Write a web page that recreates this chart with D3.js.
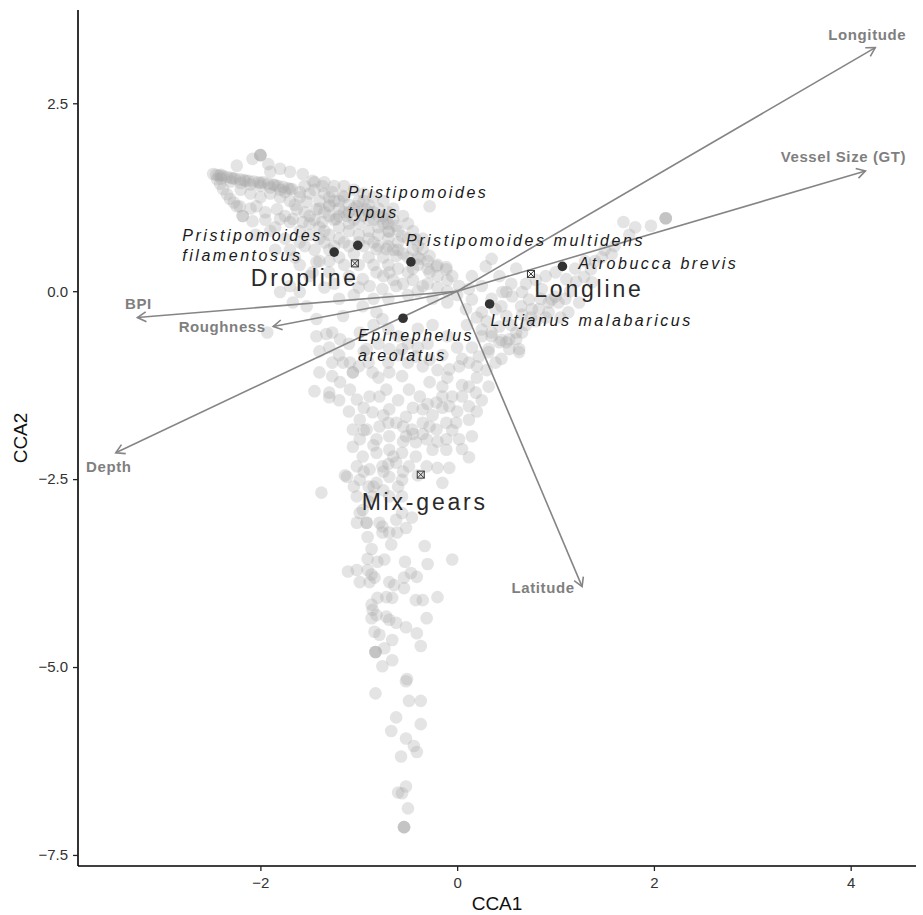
<!DOCTYPE html>
<html>
<head>
<meta charset="utf-8">
<script src="https://cdn.jsdelivr.net/npm/d3@7"></script>
<style>
  html, body { margin: 0; padding: 0; background: #fff; }
  svg { display: block; }
</style>
</head>
<body>
<svg id="chart" width="923" height="915"></svg>
<script>
// ---------------- DATA ----------------
const xTicks = [-2, 0, 2, 4];
const yTicks = [2.5, 0, -2.5, -5, -7.5];

// Site scores (CCA1, CCA2)
const sites = [
  // upper-left streak
  [-2.48,1.56],[-2.45,1.55],[-2.42,1.54],[-2.38,1.53],[-2.34,1.52],[-2.30,1.51],[-2.26,1.50],[-2.21,1.49],[-2.17,1.48],[-2.12,1.47],
  [-2.07,1.46],[-2.02,1.45],[-1.97,1.45],[-1.92,1.43],[-1.87,1.42],[-1.82,1.40],[-1.77,1.39],[-1.72,1.37],[-1.68,1.36],[-2.40,1.55],
  [-2.28,1.50],[-2.15,1.47],[-2.00,1.44],[-1.85,1.41],[-1.70,1.36],
  [-2.40,1.50],[-2.30,1.46],[-2.20,1.44],[-2.10,1.42],[-2.00,1.40],[-1.90,1.38],[-1.80,1.35],[-1.75,1.32],
  [-2.44,1.49],[-2.41,1.43],[-2.38,1.36],[-2.34,1.29],[-2.31,1.23],[-2.27,1.18],[-2.24,1.13],
  // top of the dropline cloud
  [-2.00,1.81],[-2.00,1.81],[-2.00,1.81],[-2.08,1.76],[-2.24,1.67],[-1.92,1.69],[-1.80,1.63],[-1.70,1.59],[-1.90,1.59],[-1.57,1.56],
  [-1.47,1.47],[-1.60,1.32],[-1.37,1.40],[-1.27,1.32],[-1.16,1.27],[-1.30,1.13],[-1.43,1.09],[-1.53,1.19],[-1.63,1.09],[-1.83,1.09],
  [-2.04,1.13],[-2.21,1.13],[-2.18,1.00],[-2.18,1.00],[-2.08,0.93],[-1.80,0.96],[-1.70,0.92],[-1.57,0.92],[-1.50,1.00],[-1.37,0.92],
  [-1.23,0.96],[-1.12,1.00],[-1.02,1.13],[-0.92,1.09],[-0.72,0.96],[-0.62,0.87],[-0.69,0.79],[-0.56,0.73],[-0.42,0.69],[-0.35,0.56],
  [-0.28,0.47],[-0.21,0.33],[-0.11,0.29],[-0.28,1.13],[-0.82,0.56],[-0.72,0.56],[-0.62,0.47],[-0.38,0.43],[-0.28,0.25],[-0.69,0.25],
  [-0.82,0.25],[-0.96,0.16],[-1.60,-0.01],[-1.53,-0.20],[-0.89,0.07],[-0.76,0.03],[-0.62,0.07],[-0.35,0.07],[-0.96,-0.20],[-0.82,-0.28],
  [-1.80,-0.01],
  // dense dropline mass
  [-1.60,1.25],[-1.50,1.30],[-1.40,1.20],[-1.30,1.25],[-1.20,1.20],[-1.10,1.15],[-1.00,1.20],[-0.90,1.15],[-0.80,1.10],[-0.70,1.05],
  [-1.55,1.05],[-1.45,0.95],[-1.35,1.05],[-1.25,0.95],[-1.15,1.05],[-1.05,0.95],[-0.95,1.00],[-0.85,0.95],[-0.75,0.90],
  [-1.60,0.80],[-1.50,0.75],[-1.40,0.85],[-1.30,0.75],[-1.20,0.85],[-1.10,0.80],[-1.00,0.75],[-0.90,0.80],[-0.80,0.75],[-0.70,0.70],[-0.60,0.65],
  [-1.55,0.60],[-1.45,0.55],[-1.35,0.65],[-1.25,0.60],[-1.15,0.65],[-1.05,0.50],[-0.95,0.60],[-0.85,0.65],[-0.75,0.45],[-0.65,0.55],[-0.55,0.50],[-0.45,0.55],
  [-1.40,0.40],[-1.20,0.45],[-1.00,0.35],[-0.90,0.45],[-0.70,0.35],[-0.60,0.30],[-0.50,0.25],[-0.40,0.35],[-0.30,0.40],[-0.20,0.20],[-0.10,0.15],
  [-1.50,0.20],[-1.30,0.25],[-1.10,0.20],[-0.55,0.10],[-0.45,0.15],[-0.30,0.10],[-0.20,0.05],[-0.10,0.00],[0.00,-0.05],
  [-1.45,1.35],[-1.35,1.30],[-1.25,1.20],[-1.15,1.25],[-1.05,1.10],[-0.95,1.20],[-0.85,1.05],[-1.20,1.10],[-1.30,1.00],[-1.00,1.05],
  [-0.90,0.95],[-0.80,0.85],[-0.70,0.80],[-0.65,0.95],[-1.10,0.90],[-1.35,0.80],[-0.75,1.00],
  [-2.20,1.35],[-2.10,1.30],[-2.00,1.25],[-1.90,1.30],[-1.80,1.25],[-1.70,1.20],[-2.10,1.10],[-1.95,0.95],[-1.85,0.85],[-1.75,1.00],[-1.65,1.15],
  [-1.55,1.40],[-1.45,1.45],[-1.35,1.45],[-1.25,1.40],[-1.15,1.40],[-1.05,1.35],[-0.95,1.30],[-0.85,1.25],[-0.75,1.20],[-0.65,1.10],[-0.55,1.00],
  [-0.50,0.90],[-0.45,0.80],[-0.35,0.70],
  [-1.40,1.10],[-1.30,1.15],[-1.20,1.00],[-1.10,1.05],[-1.00,0.90],[-0.90,1.05],[-0.80,1.00],[-0.70,0.90],[-0.60,0.80],[-0.50,0.70],[-0.40,0.60],
  [-1.50,0.90],[-1.40,0.70],[-1.30,0.55],[-1.20,0.70],[-1.10,0.60],[-1.00,0.65],[-0.90,0.70],[-0.80,0.60],[-0.70,0.60],[-0.60,0.55],[-0.50,0.45],
  [-0.40,0.45],[-0.30,0.30],[-0.20,0.35],
  [-1.60,0.65],[-1.70,0.55],[-1.60,0.35],[-1.30,0.40],[-1.15,0.35],[-0.85,0.35],[-0.75,0.20],[-0.65,0.15],[-0.45,0.30],[-1.25,0.10],[-1.00,0.05],
  [-0.85,-0.10],[-0.70,-0.10],[-0.50,-0.05],[-0.40,0.00],[-0.25,-0.10],[-0.10,-0.15],
  [-1.67,0.96],[-1.43,0.39],[-1.47,0.25],[-1.70,0.07],[-1.93,-0.55],[-1.67,-0.15],[-1.90,0.80],[-1.75,0.70],[-1.85,0.55],[-1.65,0.45],
  [-2.05,0.75],[-1.95,1.05],
  // below the BPI / Roughness vectors
  [-1.43,-0.37],[-1.27,-0.55],[-1.16,-0.33],[-0.99,-0.55],[-1.16,-0.95],[-1.27,-1.13],[-1.30,-1.41],[-0.92,-0.77],[-0.76,-0.37],[-0.69,-0.77],
  [-1.20,-0.10],[-1.05,-0.05],[-1.35,0.05],
  // longline arm
  [2.12,0.97],[2.12,0.97],[2.12,0.97],[1.97,0.87],[1.69,0.92],[1.81,0.85],[1.57,0.49],[1.47,0.45],[1.36,0.29],[1.29,0.19],
  [1.21,0.13],[1.11,0.16],[1.00,-0.07],[0.93,-0.15],[0.83,-0.24],[0.73,-0.11],[0.66,-0.31],[0.60,-0.55],[0.63,-0.81],[0.53,-0.64],
  [0.43,-0.47],[0.50,-0.33],[0.39,-0.24],[0.25,-0.28],[0.15,-0.11],[0.09,-0.24],[0.02,0.07],[0.43,0.20],[0.50,-0.01],[0.25,0.07],
  [0.15,0.20],[0.29,0.33],[0.35,0.43],[-0.11,0.32],[-0.05,0.20],
  [1.24,-0.15],[1.13,-0.28],[1.03,-0.15],[0.93,-0.28],[0.76,-0.24],[0.60,-0.64],[0.53,-0.77],[0.43,-0.68],[0.32,-0.81],[0.35,-0.60],
  [0.25,-0.51],[1.37,0.12],[0.66,-0.01],[0.56,-0.07],[0.46,-0.01],[0.12,0.03],[0.86,0.03],[0.96,-0.11],[1.40,0.40],[1.50,0.55],
  [1.20,0.30],[0.70,0.10],[0.60,0.30],[0.80,-0.40],[0.70,-0.45],[1.05,-0.35],
  [0.55,-0.45],[0.65,-0.20],[0.75,-0.35],[0.85,-0.10],[0.90,-0.35],[1.10,-0.10],[1.15,0.00],[0.45,-0.20],[0.30,-0.40],[0.20,-0.35],
  [0.35,-0.10],[0.55,0.10],[0.80,0.15],[1.60,0.60],[1.75,0.75],[1.30,0.40],[1.00,0.25],[0.90,0.20],
  // central part
  [-1.43,-0.60],[-1.33,-0.57],[-1.19,-0.64],[-1.06,-1.08],[-1.06,-1.08],[-1.40,-1.08],[-1.45,-1.33],[-1.30,-1.35],[-1.19,-1.21],[-1.09,-1.31],
  [-1.02,-1.44],[-0.89,-1.40],[-0.79,-1.40],[-0.72,-1.31],[-0.86,-1.08],[-0.69,-1.08],[-0.56,-1.13],[-0.49,-1.31],[-0.38,-1.40],[-0.28,-1.21],
  [-0.15,-1.27],[-0.08,-1.04],[0.02,-1.00],[0.12,-0.95],[0.22,-0.87],[0.32,-0.77],[0.39,-0.95],[0.50,-0.68],[0.63,-0.77],[0.66,-0.55],
  [0.12,-1.27],[0.19,-1.35],[0.05,-1.40],[0.32,-1.27],[0.12,-1.53],[-0.08,-1.53],[-0.21,-1.48],[-0.35,-1.57],[-0.52,-1.67],[-0.69,-1.57],
  [-0.86,-1.61],[-0.99,-1.71],[-1.06,-1.84],[-0.92,-1.84],[-0.79,-1.80],[-0.62,-1.75],[-0.46,-1.84],[-0.28,-1.80],[-0.11,-1.75],[-0.01,-1.75],
  [0.12,-1.71],[0.15,-1.93],[0.02,-1.97],[-0.11,-1.97],[-0.21,-1.84],[-0.31,-1.97],[-0.42,-2.01],[-0.52,-1.93],[-0.69,-1.93],[-0.82,-1.97],
  [-0.99,-1.97],[-1.06,-2.07],[-0.96,-2.20],[-0.82,-2.15],[-0.69,-2.11],[-0.56,-2.15],[-0.42,-2.20],[-0.25,-2.11],[-0.11,-2.11],[-1.02,-2.33],
  [-0.89,-2.37],[-0.76,-2.33],[-0.62,-2.28],[-0.49,-2.33],[-0.31,-2.33],[0.12,-2.21],[-0.08,-2.35],[-1.12,-2.47],[-0.99,-2.51],[-0.82,-2.55],
  [-0.69,-2.47],[-0.56,-2.51],[-0.15,-2.55],[-1.38,-2.68],[-1.02,-2.73],[-0.96,-2.91],[-0.86,-2.73],[-0.69,-2.73],[-0.56,-2.73],[-0.92,-3.08],
  [-0.76,-3.13],[-0.62,-3.04],[-1.27,-0.95],[-1.09,-0.95],[-0.28,-0.91],[-0.42,-0.87],[-0.56,-0.77],[-1.14,-2.45],
  [-0.60,-0.60],[-0.40,-0.50],[-0.25,-0.45],[-0.10,-0.60],[0.00,-0.75],[-0.15,-0.85],[0.25,-0.60],[0.10,-0.45],[-0.70,-0.50],[-0.80,-0.70],
  [-0.95,-0.80],[-0.85,-0.45],[-0.30,-0.70],[0.15,-0.75],[-0.50,-0.95],
  [0.45,-0.90],[0.30,-1.05],[0.20,-1.15],[0.05,-1.25],[-0.05,-1.40],[-0.15,-1.55],[-0.25,-1.65],[-0.35,-1.75],[-0.45,-1.90],[-0.55,-2.00],
  [-0.65,-2.20],[-0.75,-2.40],[-0.85,-2.60],[-0.90,-2.80],
  [-1.40,-0.80],[-1.30,-0.75],[-1.20,-0.85],[-1.10,-0.70],[-1.00,-1.00],[-0.90,-0.95],[-0.80,-1.15],[-0.70,-0.95],[-0.60,-0.85],[-0.50,-0.70],
  [-0.40,-0.75],[-0.35,-1.00],[-0.20,-1.05],[-0.10,-1.15],[0.05,-0.90],[0.20,-1.00],[0.35,-0.55],[0.45,-0.65],
  [-1.20,-1.45],[-1.10,-1.60],[-0.95,-1.55],[-0.75,-1.65],[-0.60,-1.45],[-0.45,-1.55],[-0.30,-1.50],[-0.15,-1.40],[0.00,-1.60],[0.25,-1.45],
  [0.20,-1.60],[-0.95,-1.85],[-0.85,-2.05],[-0.70,-1.75],[-0.55,-1.80],[-0.35,-1.90],[-0.20,-2.00],[0.05,-2.10],[-0.05,-1.85],
  [-0.95,-2.40],[-0.70,-2.30],[-0.55,-2.40],[-0.40,-2.45],[-0.20,-2.35],[-0.90,-2.60],[-0.75,-2.65],[-0.60,-2.60],[-1.05,-2.60],
  // mix-gears tail
  [-0.99,-2.95],[-0.92,-3.08],[-1.02,-3.08],[-0.79,-3.08],[-0.76,-3.21],[-0.69,-3.21],[-0.61,-3.21],[-0.52,-3.15],[-0.46,-3.01],[-0.56,-2.95],
  [-0.91,-3.27],[-0.67,-3.37],[-0.33,-3.39],[-0.87,-3.43],[-0.91,-3.56],[-0.81,-3.60],[-0.74,-3.57],[-0.53,-3.60],[-0.30,-3.63],[-0.05,-3.57],
  [-1.11,-3.73],[-1.02,-3.71],[-0.91,-3.71],[-0.87,-3.77],[-0.99,-3.87],[-0.89,-3.87],[-0.84,-3.81],[-0.69,-3.87],[-0.64,-3.91],[-0.54,-3.81],
  [-0.47,-3.75],[-0.41,-3.80],[-0.54,-3.95],[-0.72,-4.07],[-0.66,-4.08],[-0.81,-4.08],[-0.42,-4.11],[-0.35,-4.11],[-0.20,-4.07],[-0.87,-4.17],
  [-0.86,-4.24],[-0.82,-4.31],[-0.72,-4.33],[-0.87,-4.35],[-0.69,-4.37],[-0.62,-4.41],[-0.31,-4.35],[-0.52,-4.47],[-0.84,-4.53],[-0.79,-4.57],
  [-0.41,-4.55],[-0.66,-4.64],[-0.74,-4.75],[-0.37,-4.72],[-0.83,-4.80],[-0.83,-4.80],[-0.83,-4.80],[-0.66,-4.91],[-0.76,-4.99],[-0.51,-5.16],
  [-0.52,-5.19],[-0.83,-5.35],[-0.49,-5.45],[-0.37,-5.45],[-0.62,-5.67],[-0.37,-5.76],[-0.67,-5.85],[-0.52,-5.95],[-0.44,-6.05],[-0.41,-6.13],
  [-0.57,-6.19],[-0.52,-6.59],[-0.60,-6.67],[-0.56,-6.68],[-0.50,-6.88],[-0.54,-7.13],[-0.54,-7.13],[-0.54,-7.13]
];

// Species scores
const speciesNames = [
  ["Pristipomoides", "filamentosus"],
  ["Pristipomoides", "typus"],
  ["Pristipomoides multidens"],
  ["Atrobucca brevis"],
  ["Lutjanus malabaricus"],
  ["Epinephelus", "areolatus"]
];
const speciesX = [-1.25, -1.01, -0.47, 1.07, 0.33, -0.55];
const speciesY = [0.52, 0.61, 0.39, 0.33, -0.17, -0.36];

// Gear centroids
const gearNames = ["Dropline", "Longline", "Mix-gears"];
const gearX = [-1.04, 0.75, -0.37];
const gearY = [0.37, 0.23, -2.44];

// Environmental vectors (arrow tips)
const envNames = ["Longitude", "Vessel Size (GT)", "BPI", "Roughness", "Depth", "Latitude"];
const envX = [4.25, 4.15, -3.25, -1.87, -3.47, 1.27];
const envY = [3.24, 1.60, -0.35, -0.47, -2.15, -3.93];

// ---------------- LAYOUT ----------------
const W = 923, H = 915;
const margin = { top: 10, right: 7, bottom: 49, left: 78 };
const layout = {
  speciesOffsets: [[-152, -11], [-10, -47], [-5, -16], [16, 3], [1, 22], [-45, 23]],
  gearOffsets: [[-50, 23], [58, 23], [4, 35]],
  envOffsets: [[-8, -8], [-22, -9], [1, -9], [-51, 5], [-7, 19], [-39, 6]]
};

const svg = d3.select("#chart");
const iw = W - margin.left - margin.right;
const ih = H - margin.top - margin.bottom;
const g = svg.append("g").attr("transform", `translate(${margin.left},${margin.top})`);

const x = d3.scaleLinear().domain([-3.854, 4.664]).range([0, iw]);
const y = d3.scaleLinear().domain([-7.647, 3.741]).range([ih, 0]);

const FONT = "'Liberation Sans', Arial, Helvetica, sans-serif";

// site points
g.append("g").selectAll("circle").data(sites).join("circle")
  .attr("cx", d => x(d[0])).attr("cy", d => y(d[1]))
  .attr("r", 6.3)
  .attr("fill", "#a6a6a6")
  .attr("fill-opacity", 0.3);

// environmental arrows
const ox = x(0), oy = y(0);
const arrows = g.append("g");
envNames.forEach((name, i) => {
  const tx = x(envX[i]), ty = y(envY[i]);
  arrows.append("line")
    .attr("x1", ox).attr("y1", oy).attr("x2", tx).attr("y2", ty)
    .attr("stroke", "#858585").attr("stroke-width", 1.6);
  const ang = Math.atan2(ty - oy, tx - ox);
  const L = 10, a = Math.PI / 6;
  const p1 = [tx - L * Math.cos(ang - a), ty - L * Math.sin(ang - a)];
  const p2 = [tx - L * Math.cos(ang + a), ty - L * Math.sin(ang + a)];
  arrows.append("path")
    .attr("d", `M${p1[0]},${p1[1]}L${tx},${ty}L${p2[0]},${p2[1]}`)
    .attr("fill", "none").attr("stroke", "#858585").attr("stroke-width", 1.6);
  const off = layout.envOffsets[i];
  arrows.append("text")
    .attr("x", tx + off[0]).attr("y", ty + off[1])
    .attr("text-anchor", "middle")
    .attr("font-family", FONT).attr("font-weight", "bold")
    .attr("font-size", 15).attr("letter-spacing", 0.6)
    .attr("fill", "#7f7f7f")
    .text(name);
});

// gear centroids
const gears = g.append("g");
gearNames.forEach((name, i) => {
  const cx = x(gearX[i]), cy = y(gearY[i]);
  const s = 3.5;
  gears.append("rect").attr("x", cx - s).attr("y", cy - s).attr("width", 2 * s).attr("height", 2 * s)
    .attr("fill", "none").attr("stroke", "#333").attr("stroke-width", 1);
  gears.append("path").attr("d", `M${cx - s},${cy - s}L${cx + s},${cy + s}M${cx + s},${cy - s}L${cx - s},${cy + s}`)
    .attr("stroke", "#333").attr("stroke-width", 1);
  const off = layout.gearOffsets[i];
  gears.append("text")
    .attr("x", cx + off[0]).attr("y", cy + off[1])
    .attr("text-anchor", "middle")
    .attr("font-family", FONT).attr("font-size", 23).attr("letter-spacing", 2.8)
    .attr("fill", "#2a2a2a")
    .text(name);
});

// species
const sp = g.append("g");
speciesNames.forEach((lines, i) => {
  const cx = x(speciesX[i]), cy = y(speciesY[i]);
  sp.append("circle").attr("cx", cx).attr("cy", cy).attr("r", 4.8).attr("fill", "#333");
  const off = layout.speciesOffsets[i];
  const t = sp.append("text")
    .attr("x", cx + off[0]).attr("y", cy + off[1])
    .attr("font-family", FONT).attr("font-style", "italic")
    .attr("font-size", 16).attr("letter-spacing", 2.55)
    .attr("fill", "#1a1a1a");
  lines.forEach((ln, j) => {
    t.append("tspan").attr("x", cx + off[0]).attr("dy", j === 0 ? 0 : 19.5).text(ln);
  });
});

// axes
const fmtY = d3.format(".1f");
const xAxis = d3.axisBottom(x).tickValues(xTicks).tickSize(5).tickPadding(6).tickFormat(d3.format("d"));
const yAxis = d3.axisLeft(y).tickValues(yTicks).tickSize(5).tickPadding(5).tickFormat(fmtY);

const gx = g.append("g").attr("transform", `translate(0,${ih})`).call(xAxis);
const gy = g.append("g").call(yAxis);
[gx, gy].forEach(a => {
  a.select(".domain").attr("stroke", "#000").attr("stroke-width", 1.6);
  a.selectAll(".tick line").attr("stroke", "#222").attr("stroke-width", 1.3);
  a.selectAll(".tick text").attr("font-family", FONT).attr("font-size", 15).attr("fill", "#333");
});
gx.select(".domain").attr("d", `M0,0H${iw}`);
gy.select(".domain").attr("d", `M0,0V${ih}`);

// axis titles
svg.append("text")
  .attr("x", margin.left + iw / 2).attr("y", 910)
  .attr("text-anchor", "middle")
  .attr("font-family", FONT).attr("font-size", 19).attr("fill", "#111")
  .text("CCA1");
svg.append("text")
  .attr("transform", `translate(27,${margin.top + ih / 2}) rotate(-90)`)
  .attr("text-anchor", "middle")
  .attr("font-family", FONT).attr("font-size", 19).attr("fill", "#111")
  .text("CCA2");
</script>
</body>
</html>
